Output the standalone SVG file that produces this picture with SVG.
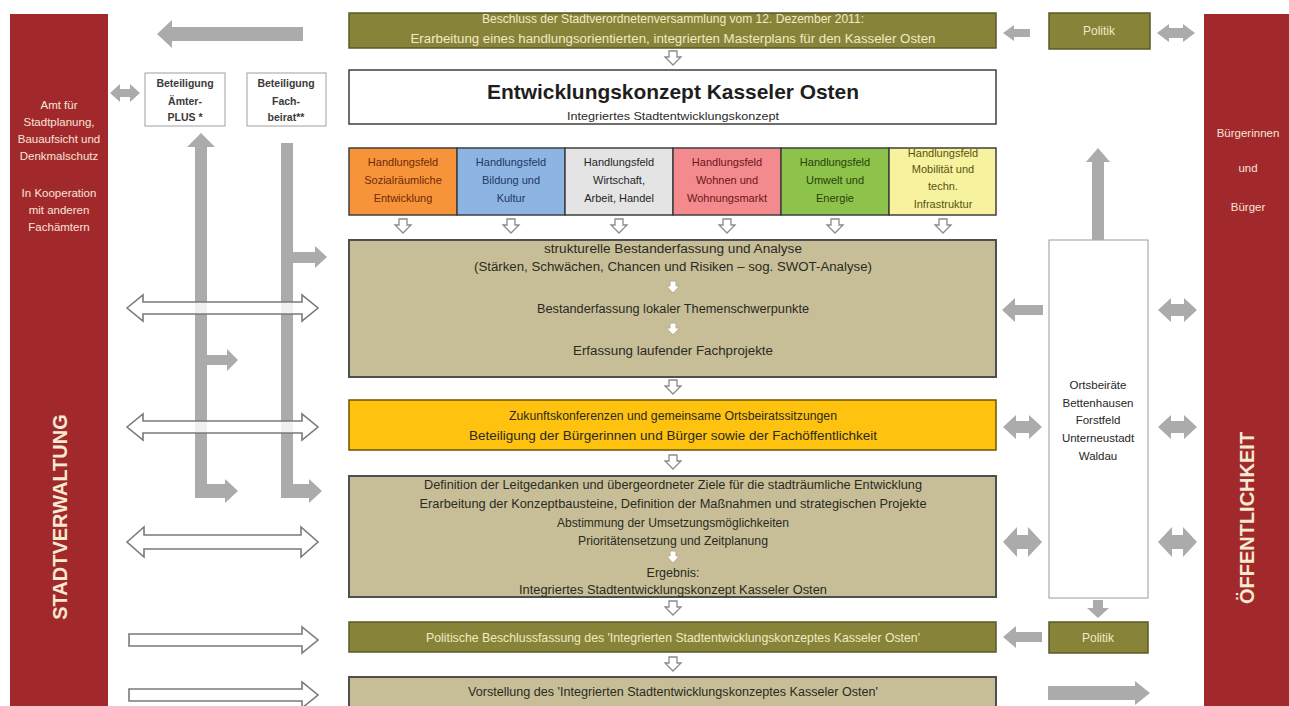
<svg xmlns="http://www.w3.org/2000/svg" width="1289" height="706" viewBox="0 0 1289 706">
<style>
  text { font-family: "Liberation Sans", Arial, sans-serif; }
  .red { fill: #A2292B; }
  .bar-t { font-size: 11.5px; fill: #F6E3DA; text-anchor: middle; }
  .vert { font-size: 20px; font-weight: bold; fill: #F7EAD2; text-anchor: middle; }
  .olive { fill: #878439; stroke: #5C5A27; stroke-width: 1.5; }
  .olive-t { font-size: 12px; fill: #F2EAC4; text-anchor: middle; }
  .tan { fill: #C7BE98; stroke: #4F4F4F; stroke-width: 2; }
  .body { font-size: 12.5px; fill: #2A2A22; text-anchor: middle; }
  .hf { stroke: #3F3F3F; stroke-width: 1.5; }
  .hf-t { font-size: 11px; text-anchor: middle; }
  .small-box { fill: #FFFFFF; stroke: #A0A0A0; stroke-width: 1; }
  .sb-t { font-size: 10.5px; font-weight: bold; fill: #3A3A3A; text-anchor: middle; }
  .ob-t { font-size: 11.5px; fill: #262626; text-anchor: middle; }
  .grey { fill: #ABABAB; }
  .hollow { fill: #FFFFFF; stroke: #8A8A8A; stroke-width: 1.3; }
  .hollow2 { fill: #FFFFFF; fill-opacity: 0.82; stroke: #7A7A7A; stroke-width: 1.6; }
  .inner { fill: #FFFFFF; stroke: #B5AE8C; stroke-width: 1; }
</style>
<defs>
  <path id="hdown" d="M-4,0 h8 v6 h4 l-8,8 l-8,-8 h4 z"/>
  <path id="sdown" d="M-3,0 h6 v5 h3.5 l-6.5,7 l-6.5,-7 h3.5 z"/>
</defs>

<rect width="1289" height="706" fill="#FFFFFF"/>

<g id="stadtverwaltung">
  <rect class="red" x="10" y="14" width="98" height="692"/>
  <text class="bar-t" x="59" y="109">Amt für</text>
  <text class="bar-t" x="59" y="126">Stadtplanung,</text>
  <text class="bar-t" x="59" y="143">Bauaufsicht und</text>
  <text class="bar-t" x="59" y="160">Denkmalschutz</text>
  <text class="bar-t" x="59" y="197">In Kooperation</text>
  <text class="bar-t" x="59" y="214">mit anderen</text>
  <text class="bar-t" x="59" y="231">Fachämtern</text>
  <text class="vert" transform="translate(67,517) rotate(-90)">STADTVERWALTUNG</text>
</g>

<g id="oeffentlichkeit">
  <rect class="red" x="1204" y="14" width="85" height="692"/>
  <text class="bar-t" x="1248" y="137">Bürgerinnen</text>
  <text class="bar-t" x="1248" y="172">und</text>
  <text class="bar-t" x="1248" y="211">Bürger</text>
  <text class="vert" transform="translate(1254,518) rotate(-90)">ÖFFENTLICHKEIT</text>
</g>

<g id="beschluss">
  <rect class="olive" x="349" y="13" width="647" height="35"/>
  <text class="olive-t" x="673" y="23" textLength="382" lengthAdjust="spacingAndGlyphs">Beschluss der Stadtverordnetenversammlung vom 12. Dezember 2011:</text>
  <text class="olive-t" x="673" y="43" textLength="525" lengthAdjust="spacingAndGlyphs">Erarbeitung eines handlungsorientierten, integrierten Masterplans für den Kasseler Osten</text>
</g>

<g id="entwicklungskonzept">
  <rect x="349" y="70" width="647" height="54" fill="#FFFFFF" stroke="#3F3F3F" stroke-width="1.5"/>
  <text x="673" y="99" font-size="21" font-weight="bold" fill="#1E1E1E" text-anchor="middle" textLength="372" lengthAdjust="spacingAndGlyphs">Entwicklungskonzept Kasseler Osten</text>
  <text x="673" y="120" font-size="11.5" fill="#2A2A2A" text-anchor="middle" textLength="212" lengthAdjust="spacingAndGlyphs">Integriertes Stadtentwicklungskonzept</text>
</g>

<g id="hf-sozial">
  <rect class="hf" x="349" y="148" width="108" height="67" fill="#F7943A"/>
  <text class="hf-t" fill="#6E2A08" x="403" y="166">Handlungsfeld</text>
  <text class="hf-t" fill="#6E2A08" x="403" y="184">Sozialräumliche</text>
  <text class="hf-t" fill="#6E2A08" x="403" y="202">Entwicklung</text>
</g>
<g id="hf-bildung">
  <rect class="hf" x="457" y="148" width="108" height="67" fill="#8DB4E2"/>
  <text class="hf-t" fill="#1E3966" x="511" y="166">Handlungsfeld</text>
  <text class="hf-t" fill="#1E3966" x="511" y="184">Bildung und</text>
  <text class="hf-t" fill="#1E3966" x="511" y="202">Kultur</text>
</g>
<g id="hf-wirtschaft">
  <rect class="hf" x="565" y="148" width="108" height="67" fill="#E4E4E4"/>
  <text class="hf-t" fill="#262626" x="619" y="166">Handlungsfeld</text>
  <text class="hf-t" fill="#262626" x="619" y="184">Wirtschaft,</text>
  <text class="hf-t" fill="#262626" x="619" y="202">Arbeit, Handel</text>
</g>
<g id="hf-wohnen">
  <rect class="hf" x="673" y="148" width="108" height="67" fill="#F38A8E"/>
  <text class="hf-t" fill="#6E1616" x="727" y="166">Handlungsfeld</text>
  <text class="hf-t" fill="#6E1616" x="727" y="184">Wohnen und</text>
  <text class="hf-t" fill="#6E1616" x="727" y="202">Wohnungsmarkt</text>
</g>
<g id="hf-umwelt">
  <rect class="hf" x="781" y="148" width="108" height="67" fill="#8DC34B"/>
  <text class="hf-t" fill="#27420C" x="835" y="166">Handlungsfeld</text>
  <text class="hf-t" fill="#27420C" x="835" y="184">Umwelt und</text>
  <text class="hf-t" fill="#27420C" x="835" y="202">Energie</text>
</g>
<g id="hf-mobilitaet">
  <rect class="hf" x="889" y="148" width="107" height="67" fill="#F6F29E"/>
  <text class="hf-t" fill="#5A5310" x="943" y="157">Handlungsfeld</text>
  <text class="hf-t" fill="#5A5310" x="943" y="173">Mobilität und</text>
  <text class="hf-t" fill="#5A5310" x="943" y="190">techn.</text>
  <text class="hf-t" fill="#5A5310" x="943" y="208">Infrastruktur</text>
</g>

<g id="analyse">
  <rect class="tan" x="349" y="240" width="647" height="137"/>
  <text class="body" x="673" y="253" textLength="258" lengthAdjust="spacingAndGlyphs">strukturelle Bestanderfassung und Analyse</text>
  <text class="body" x="673" y="271" textLength="398" lengthAdjust="spacingAndGlyphs">(Stärken, Schwächen, Chancen und Risiken – sog. SWOT-Analyse)</text>
  <use href="#sdown" class="inner" x="673" y="281"/>
  <text class="body" x="673" y="313" textLength="272" lengthAdjust="spacingAndGlyphs">Bestanderfassung lokaler Themenschwerpunkte</text>
  <use href="#sdown" class="inner" x="673" y="323"/>
  <text class="body" x="673" y="355" textLength="200" lengthAdjust="spacingAndGlyphs">Erfassung laufender Fachprojekte</text>
</g>

<g id="zukunftskonferenzen">
  <rect x="349" y="400" width="647" height="50" fill="#FFC20E" stroke="#6B5500" stroke-width="1.5"/>
  <text class="body" x="673" y="420" textLength="328" lengthAdjust="spacingAndGlyphs">Zukunftskonferenzen und gemeinsame Ortsbeiratssitzungen</text>
  <text class="body" x="673" y="440" textLength="408" lengthAdjust="spacingAndGlyphs">Beteiligung der Bürgerinnen und Bürger sowie der Fachöffentlichkeit</text>
</g>

<g id="definition">
  <rect class="tan" x="349" y="476" width="647" height="121"/>
  <text class="body" x="673" y="489" textLength="498" lengthAdjust="spacingAndGlyphs">Definition der Leitgedanken und übergeordneter Ziele für die stadträumliche Entwicklung</text>
  <text class="body" x="673" y="508" textLength="507" lengthAdjust="spacingAndGlyphs">Erarbeitung der Konzeptbausteine, Definition der Maßnahmen und strategischen Projekte</text>
  <text class="body" x="673" y="527" textLength="232" lengthAdjust="spacingAndGlyphs">Abstimmung der Umsetzungsmöglichkeiten</text>
  <text class="body" x="673" y="545" textLength="190" lengthAdjust="spacingAndGlyphs">Prioritätensetzung und Zeitplanung</text>
  <use href="#sdown" class="inner" x="673" y="551"/>
  <text class="body" x="673" y="577">Ergebnis:</text>
  <text class="body" x="673" y="594" textLength="308" lengthAdjust="spacingAndGlyphs">Integriertes Stadtentwicklungskonzept Kasseler Osten</text>
</g>

<g id="beschlussfassung">
  <rect class="olive" x="349" y="622" width="647" height="30"/>
  <text class="olive-t" x="673" y="642" textLength="494" lengthAdjust="spacingAndGlyphs">Politische Beschlussfassung des 'Integrierten Stadtentwicklungskonzeptes Kasseler Osten'</text>
</g>

<g id="vorstellung">
  <rect class="tan" x="349" y="677" width="647" height="35"/>
  <text class="body" x="673" y="696" textLength="410" lengthAdjust="spacingAndGlyphs">Vorstellung des 'Integrierten Stadtentwicklungskonzeptes Kasseler Osten'</text>
</g>

<g id="beteiligung-aemter">
  <rect class="small-box" x="145" y="73" width="80" height="53"/>
  <text class="sb-t" x="185" y="87">Beteiligung</text>
  <text class="sb-t" x="185" y="105">Ämter-</text>
  <text class="sb-t" x="185" y="121">PLUS *</text>
</g>

<g id="beteiligung-fachbeirat">
  <rect class="small-box" x="247" y="73" width="79" height="53"/>
  <text class="sb-t" x="286" y="87">Beteiligung</text>
  <text class="sb-t" x="286" y="105">Fach-</text>
  <text class="sb-t" x="286" y="121">beirat**</text>
</g>

<g id="politik-oben">
  <rect class="olive" x="1049" y="13" width="101" height="36"/>
  <text class="olive-t" x="1099" y="35">Politik</text>
</g>

<g id="ortsbeiraete">
  <rect x="1049" y="240" width="99" height="358" fill="#FFFFFF" stroke="#9A9A9A" stroke-width="1"/>
  <text class="ob-t" x="1098" y="389">Ortsbeiräte</text>
  <text class="ob-t" x="1098" y="407">Bettenhausen</text>
  <text class="ob-t" x="1098" y="424">Forstfeld</text>
  <text class="ob-t" x="1098" y="442">Unterneustadt</text>
  <text class="ob-t" x="1098" y="460">Waldau</text>
</g>

<g id="politik-unten">
  <rect class="olive" x="1049" y="622" width="99" height="31"/>
  <text class="olive-t" x="1098" y="642">Politik</text>
</g>

<g id="connectors">
  <use href="#hdown" class="hollow" x="673" y="51"/>
  <use href="#hdown" class="hollow" x="403" y="219"/>
  <use href="#hdown" class="hollow" x="511" y="219"/>
  <use href="#hdown" class="hollow" x="619" y="219"/>
  <use href="#hdown" class="hollow" x="727" y="219"/>
  <use href="#hdown" class="hollow" x="835" y="219"/>
  <use href="#hdown" class="hollow" x="943" y="219"/>
  <use href="#hdown" class="hollow" x="673" y="380"/>
  <use href="#hdown" class="hollow" x="673" y="455"/>
  <use href="#hdown" class="hollow" x="673" y="601"/>
  <use href="#hdown" class="hollow" x="673" y="657"/>

  <path class="grey" d="M157,34 L172,20 L172,27 L303,27 L303,41 L172,41 L172,48 Z"/>
  <path class="grey" d="M110,93 L120,84 L120,89 L130,89 L130,84 L140,93 L130,102 L130,97 L120,97 L120,102 Z"/>
  <path class="grey" d="M201,133 L215,147 L207,147 L207,355 L227,355 L227,349 L238,360 L227,371 L227,365 L207,365 L207,484 L225,484 L225,479 L238,491 L225,503 L225,498 L195,498 L195,147 L187,147 Z"/>
  <path class="grey" d="M281,143 L293,143 L293,252 L315,252 L315,246 L327,257 L315,268 L315,263 L293,263 L293,484 L309,484 L309,479 L322,491 L309,503 L309,498 L281,498 Z"/>

  <path class="hollow2" d="M127,308 L143,295 L143,302 L302,302 L302,295 L318,308 L302,321 L302,314 L143,314 L143,321 Z"/>
  <path class="hollow2" d="M127,427 L143,414 L143,421 L302,421 L302,414 L318,427 L302,440 L302,433 L143,433 L143,440 Z"/>
  <path class="hollow2" d="M127,542 L144,527 L144,535 L301,535 L301,527 L318,542 L301,557 L301,549 L144,549 L144,557 Z"/>
  <path class="hollow2" d="M129,634 L302,634 L302,627 L318,640 L302,653 L302,646 L129,646 Z"/>
  <path class="hollow2" d="M129,689 L302,689 L302,682 L318,695 L302,708 L302,701 L129,701 Z"/>

  <path class="grey" d="M1003,33 L1014,25 L1014,29 L1030,29 L1030,37 L1014,37 L1014,41 Z"/>
  <path class="grey" d="M1157,33 L1169,24 L1169,28 L1183,28 L1183,24 L1195,33 L1183,42 L1183,38 L1169,38 L1169,42 Z"/>
  <path class="grey" d="M1098,148 L1110,162 L1104,162 L1104,240 L1092,240 L1092,162 L1086,162 Z"/>
  <path class="grey" d="M1002,310 L1015,298 L1015,305 L1043,305 L1043,315 L1015,315 L1015,322 Z"/>
  <path class="grey" d="M1158,310 L1171,298 L1171,304 L1184,304 L1184,298 L1197,310 L1184,322 L1184,316 L1171,316 L1171,322 Z"/>
  <path class="grey" d="M1003,427 L1016,415 L1016,421 L1029,421 L1029,415 L1042,427 L1029,439 L1029,433 L1016,433 L1016,439 Z"/>
  <path class="grey" d="M1158,427 L1171,415 L1171,421 L1184,421 L1184,415 L1197,427 L1184,439 L1184,433 L1171,433 L1171,439 Z"/>
  <path class="grey" d="M1003,542 L1017,527 L1017,535 L1028,535 L1028,527 L1042,542 L1028,557 L1028,549 L1017,549 L1017,557 Z"/>
  <path class="grey" d="M1158,542 L1172,527 L1172,535 L1183,535 L1183,527 L1197,542 L1183,557 L1183,549 L1172,549 L1172,557 Z"/>
  <path class="grey" d="M1093,600 L1103,600 L1103,608 L1109,608 L1098,618 L1087,608 L1093,608 Z"/>
  <path class="grey" d="M1003,637 L1016,626 L1016,632 L1042,632 L1042,642 L1016,642 L1016,648 Z"/>
  <path class="grey" d="M1048,686 L1135,686 L1135,681 L1150,693 L1135,705 L1135,700 L1048,700 Z"/>
</g>
</svg>
